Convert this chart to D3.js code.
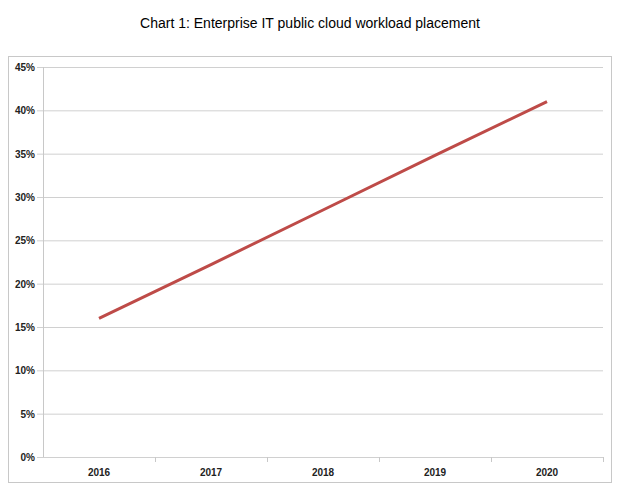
<!DOCTYPE html><html><head><script src="https://cdn.jsdelivr.net/npm/d3@7"></script>
<style>body{margin:0;background:#fff}text{font-family:"Liberation Sans",Arial,sans-serif}</style></head><body>
<svg id="c" width="620" height="501"></svg>
<script>
const years=["2016","2017","2018","2019","2020"];
const values=[16,22.2,28.5,34.8,41];
const yTicks=[0,5,10,15,20,25,30,35,40,45];
const svg=d3.select("#c");
svg.append("text").attr("x",310).attr("y",28).attr("text-anchor","middle").attr("font-size",14).text("Chart 1: Enterprise IT public cloud workload placement");
svg.append("rect").attr("x",8.5).attr("y",56.5).attr("width",603).attr("height",426).attr("fill","none").attr("stroke","#c8c8c8");
const L=43,R=603,T=67,B=457;
const x=d3.scaleBand().domain(years).range([L,R]);
const y=d3.scaleLinear().domain([0,45]).range([B,T]);
svg.append("g").selectAll("line").data(yTicks).join("line").attr("x1",L-6).attr("x2",R).attr("y1",d=>y(d)+.5).attr("y2",d=>y(d)+.5).attr("stroke","#d0d0d0");
svg.append("line").attr("x1",L+.5).attr("x2",L+.5).attr("y1",T).attr("y2",B).attr("stroke","#c8c8c8");
svg.append("g").selectAll("line").data(years.slice(1).concat(["end"])).join("line")
 .attr("x1",(d,i)=>L+x.bandwidth()*(i+1)+.5).attr("x2",(d,i)=>L+x.bandwidth()*(i+1)+.5).attr("y1",B).attr("y2",B+5).attr("stroke","#c8c8c8");
svg.append("g").selectAll("text").data(yTicks).join("text").attr("x",L-8).attr("y",d=>y(d)+4).attr("text-anchor","end").attr("font-size",10).attr("font-weight","bold").attr("fill","#222").text(d=>d+"%");
svg.append("g").selectAll("text").data(years).join("text").attr("x",d=>x(d)+x.bandwidth()/2).attr("y",B+19).attr("text-anchor","middle").attr("font-size",10).attr("font-weight","bold").attr("fill","#222").text(d=>d);
svg.append("path").datum(values).attr("fill","none").attr("stroke","#be4b48").attr("stroke-width",3)
 .attr("d",d3.line().x((d,i)=>x(years[i])+x.bandwidth()/2).y(d=>y(d)));
</script></body></html>
